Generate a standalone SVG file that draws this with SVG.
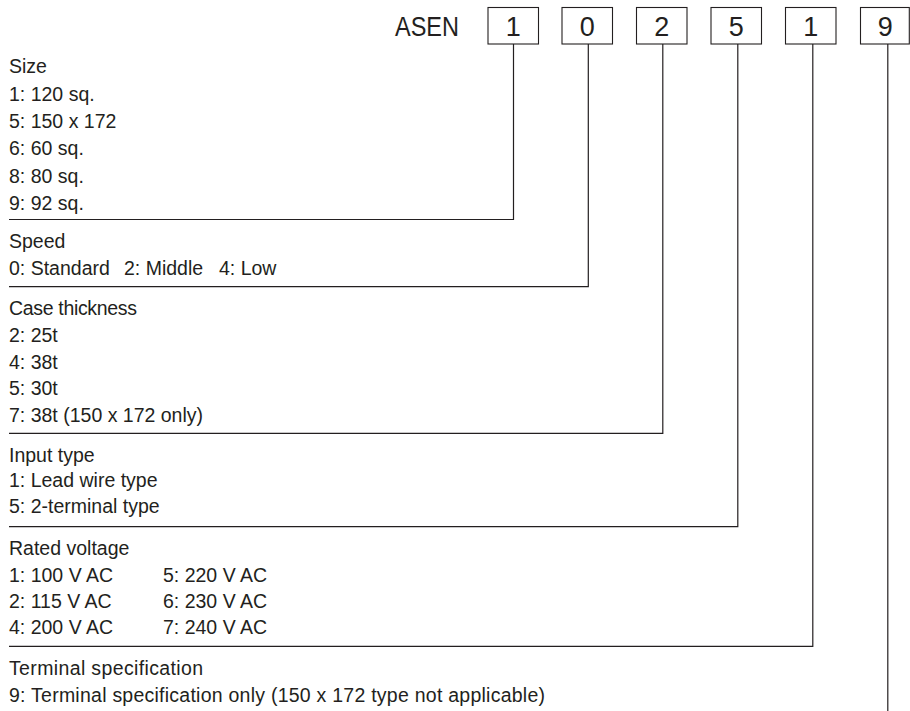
<svg xmlns="http://www.w3.org/2000/svg" width="910" height="711" viewBox="0 0 910 711">
<style>
text{font-family:"Liberation Sans",Arial,sans-serif;fill:#231f20}
.t{font-size:19.5px}
.big{font-size:27px}
.d{text-anchor:middle}
.box{fill:#fff;stroke:#231f20;stroke-width:1.1}
.ln{fill:none;stroke:#231f20;stroke-width:1.2}
</style>
<rect width="910" height="711" fill="#fff"/>
<g id="code">
<text class="big" x="395" y="35.6" textLength="64" lengthAdjust="spacingAndGlyphs">ASEN</text>
</g>
<g id="box1"><rect class="box" x="488" y="7.5" width="50.5" height="36.5"/><text class="big d" x="513.2" y="35.6">1</text></g>
<g id="box2"><rect class="box" x="562" y="7.5" width="50.5" height="36.5"/><text class="big d" x="587.2" y="35.6">0</text></g>
<g id="box3"><rect class="box" x="636.5" y="7.5" width="50.5" height="36.5"/><text class="big d" x="661.7" y="35.6">2</text></g>
<g id="box4"><rect class="box" x="711" y="7.5" width="50.5" height="36.5"/><text class="big d" x="736.2" y="35.6">5</text></g>
<g id="box5"><rect class="box" x="785.5" y="7.5" width="50.5" height="36.5"/><text class="big d" x="810.7" y="35.6">1</text></g>
<g id="box6"><rect class="box" x="860.5" y="7.5" width="48.8" height="36.5"/><text class="big d" x="885.2" y="35.6">9</text></g>
<g id="connectors">
<polyline class="ln" points="9,219.5 513.5,219.5 513.5,44"/>
<polyline class="ln" points="9,286.7 588.3,286.7 588.3,44"/>
<polyline class="ln" points="9,433.3 662.8,433.3 662.8,44"/>
<polyline class="ln" points="9,526.7 737.8,526.7 737.8,44"/>
<polyline class="ln" points="9,646.3 812.8,646.3 812.8,44"/>
<polyline class="ln" points="887.8,44 887.8,711"/>
</g>
<g id="size">
<text class="t" x="9" y="73.3">Size</text>
<text class="t" x="9" y="100.7">1: 120 sq.</text>
<text class="t" x="9" y="128">5: 150 x 172</text>
<text class="t" x="9" y="155.3">6: 60 sq.</text>
<text class="t" x="9" y="182.7">8: 80 sq.</text>
<text class="t" x="9" y="210">9: 92 sq.</text>
</g>
<g id="speed">
<text class="t" x="9" y="248">Speed</text>
<text class="t" x="9" y="274.5">0: Standard</text>
<text class="t" x="124" y="274.5">2: Middle</text>
<text class="t" x="219" y="274.5">4: Low</text>
</g>
<g id="case">
<text class="t" x="9" y="315" textLength="128">Case thickness</text>
<text class="t" x="9" y="342">2: 25t</text>
<text class="t" x="9" y="368.5">4: 38t</text>
<text class="t" x="9" y="395">5: 30t</text>
<text class="t" x="9" y="422">7: 38t (150 x 172 only)</text>
</g>
<g id="input">
<text class="t" x="9" y="461.7">Input type</text>
<text class="t" x="9" y="487.3">1: Lead wire type</text>
<text class="t" x="9" y="513.3">5: 2-terminal type</text>
</g>
<g id="voltage">
<text class="t" x="9" y="555">Rated voltage</text>
<text class="t" x="9" y="582">1: 100 V AC</text>
<text class="t" x="9" y="608">2: 115 V AC</text>
<text class="t" x="9" y="634">4: 200 V AC</text>
<text class="t" x="163" y="582">5: 220 V AC</text>
<text class="t" x="163" y="608">6: 230 V AC</text>
<text class="t" x="163" y="634">7: 240 V AC</text>
</g>
<g id="terminal">
<text class="t" x="9" y="675" textLength="194">Terminal specification</text>
<text class="t" x="9" y="701.7" textLength="536">9: Terminal specification only (150 x 172 type not applicable)</text>
</g>
</svg>
